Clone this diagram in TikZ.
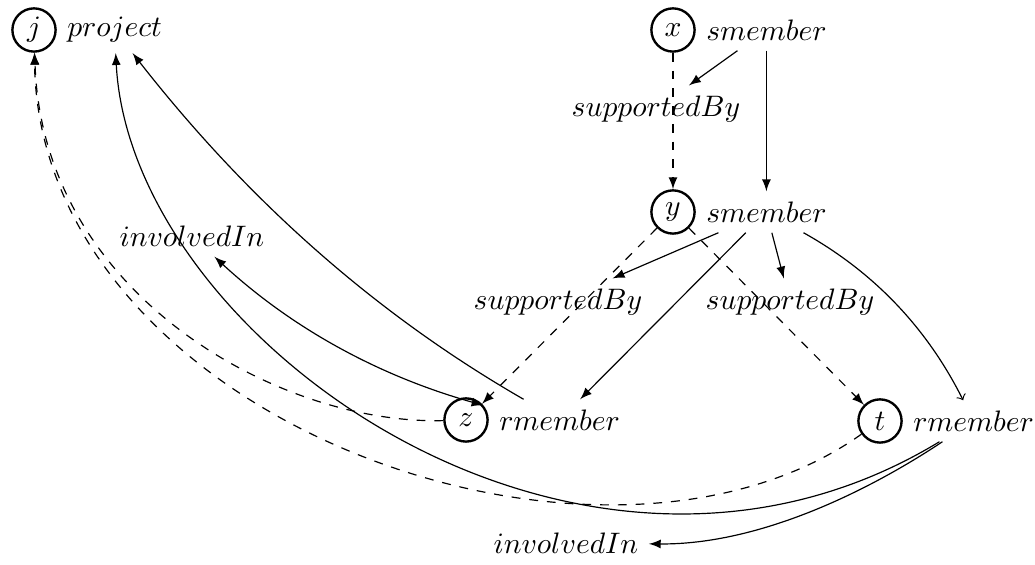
\documentclass[tikz,border=0pt]{standalone}
\usetikzlibrary{positioning,arrows}
\begin{document}
\begin{tikzpicture}[x=0.3378pt,y=-0.3378pt,
  var/.style={circle,draw,thick,minimum size=14.6pt,inner sep=0.5pt},
  lbl/.style={inner sep=3.333pt},
  rel/.style={-latex},
  dsh/.style={dashed,-latex}]
\useasboundingbox (0,0) rectangle (1035,565);
\node[var] (j) at (34,30) {$j$};
\node[lbl,right=0pt of j] (jl) {$project$};
\node[var] (x) at (673,30) {$x$};
\node[lbl,right=0pt of x] (xl) {$smember$};
\node[var] (y) at (673,212) {$y$};
\node[lbl,right=0pt of y] (yl) {$smember$};
\node[var] (z) at (466,420) {$z$};
\node[lbl,right=0pt of z] (zl) {$rmember$};
\node[var] (t) at (880,421) {$t$};
\node[lbl,right=0pt of t] (tl) {$rmember$};
\node[lbl] (sbT) at (656,109) {$supportedBy$};
\node[lbl] (sbL) at (558,302) {$supportedBy$};
\node[lbl] (sbR) at (790,302) {$supportedBy$};
\node[lbl] (inA) at (192,236) {$involvedIn$};
\node[lbl] (inB) at (566,543) {$involvedIn$};
\draw[dsh] (x) -- (y);
\draw[rel] (xl) -- (sbT);
\draw[rel] (xl) -- (yl);
\draw[dsh] (y) -- (z);
\draw[dsh] (y) -- (t);
\draw[rel] (yl) -- (sbL);
\draw[rel] (yl) -- (sbR);
\draw[rel] (yl) -- (zl);
\draw[->] (yl) .. controls (872,271) and (926,326) .. (tl);
\draw[rel] (zl) .. controls (372,312) and (245,197) .. (jl);
\draw[latex-latex] (z.40) .. controls (386,378) and (297,333) .. (inA);
\draw[dsh] (z) .. controls (280,425) and (42,295) .. (j);
\draw[dsh] (t) .. controls (600,620) and (40,420) .. (j);
\draw[rel] (tl) .. controls (580,660) and (130,340) .. (jl);
\draw[rel] (tl) .. controls (870,490) and (760,545) .. (inB);
\end{tikzpicture}
\end{document}
